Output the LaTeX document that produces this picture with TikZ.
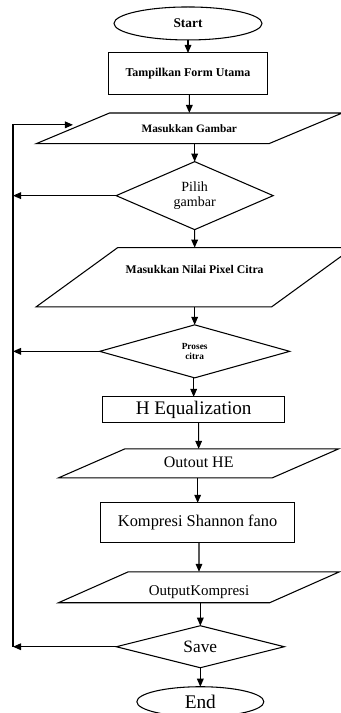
\documentclass[tikz,border=0pt]{standalone}
\usepackage{fontspec}
\setmainfont{Liberation Serif}
\usetikzlibrary{arrows.meta,positioning,shapes.geometric}

\begin{document}
\begin{tikzpicture}[%
    >={Triangle[length=6pt,width=5pt]},line width=0.8pt,align=center]
    \tikzstyle{base}=[draw=black,fill=white,inner sep=1pt,outer sep=0pt,text centered]
    \tikzstyle{terminal}=[base,ellipse]
    \tikzstyle{process}=[base,rectangle]
    \tikzstyle{io}=[base,trapezium,trapezium stretches body,text height=0.72em,text depth=0.06em]
    \tikzstyle{decision}=[base,diamond,aspect=2.2]
    \useasboundingbox (0,0) rectangle (255pt,-534.75pt);
    % All states
    \node (start) [terminal,minimum width=111pt,minimum height=24.75pt,
          font=\fontsize{10}{12}\selectfont\bfseries] at (141pt,-17.6pt) {Start};
    \node (form) [process,below=9.75pt of start,minimum width=119.25pt,minimum height=31.5pt,
          font=\fontsize{9}{11}\selectfont\bfseries] {Tampilkan Form Utama};
    \node (gambar) [io,below=13.5pt of form,xshift=1pt,trapezium left angle=22.7,trapezium right angle=157.3,
          minimum width=229.5pt,inner ysep=7.6pt,
          font=\fontsize{8.5}{10}\selectfont\bfseries] {Masukkan Gambar};
    \node (pilih) [decision,below=13.5pt of gambar,xshift=4pt,minimum width=117.75pt,minimum height=51pt,
          font=\fontsize{10.5}{11.5}\selectfont] {Pilih\\gambar};
    \node (nilai) [io,below=13.5pt of pilih,trapezium left angle=36,trapezium right angle=144,
          minimum width=237.75pt,text height=0.7em,text depth=12.4pt,inner ysep=12.5pt,
          font=\fontsize{8.8}{10}\selectfont\bfseries] {Masukkan Nilai Pixel Citra};
    \node (proses) [decision,below=13.5pt of nilai,minimum width=142.5pt,minimum height=39.75pt,
          font=\fontsize{7}{7.5}\selectfont\bfseries] {Proses\\citra};
    \node (hequal) [process,below=14.25pt of proses,xshift=-0.75pt,minimum width=136.5pt,minimum height=19.5pt,
          font=\fontsize{14.4}{16}\selectfont] {H Equalization};
    \node (outhe) [io,below=19.5pt of hequal,xshift=3.75pt,trapezium left angle=23.6,trapezium right angle=156.4,
          minimum width=210pt,inner ysep=6.95pt,
          font=\fontsize{12}{14}\selectfont] {Outout HE};
    \node (kompresi) [process,below=18.75pt of outhe,xshift=-0.75pt,minimum width=145.5pt,minimum height=30pt,
          font=\fontsize{12.3}{14}\selectfont] {Kompresi Shannon fano};
    \node (outkomp) [io,below=21.75pt of kompresi,xshift=1pt,trapezium left angle=23.9,trapezium right angle=156.1,
          minimum width=210.75pt,text height=13pt,text depth=0.4pt,inner ysep=4.9pt,
          font=\fontsize{11.2}{13}\selectfont] {OutputKompresi};
    \node (save) [decision,below=17.25pt of outkomp,xshift=1pt,minimum width=126pt,minimum height=31.5pt,
          font=\fontsize{13}{15}\selectfont] {Save};
    \node (end) [terminal,below=14.25pt of save,minimum width=95.25pt,minimum height=22.5pt,
          font=\fontsize{14.5}{16}\selectfont] {End};
    % Return line on the left
    \coordinate (rail) at (9.75pt,0);
    % Edges
    \draw [->] (start.south -| form) -- (form);
    \draw [->] (form.south -| gambar) -- (gambar);
    \draw [->] (gambar.south -| pilih) -- (pilih);
    \draw [->] (pilih.south -| nilai) -- (nilai);
    \draw [->] (nilai.south -| proses) -- (proses);
    \draw [->] (proses.south -| hequal) -- (hequal);
    \draw [->] (hequal.south -| outhe) -- (outhe);
    \draw [->] (outhe.south -| kompresi) -- (kompresi);
    \draw [->] (kompresi.south -| outkomp) -- (outkomp);
    \draw [->] (outkomp.south -| save) -- (save);
    \draw [->] (save.south -| end) -- (end);
    \draw [->] (pilih.west) -- (pilih.west -| rail);
    \draw [->] (proses.west) -- (proses.west -| rail);
    \draw [->] (save.west) -- (save.west -| rail);
    \draw [->] (save.west -| rail) |- ([yshift=2.6pt]gambar.left side);
  \end{tikzpicture}
\end{document}
